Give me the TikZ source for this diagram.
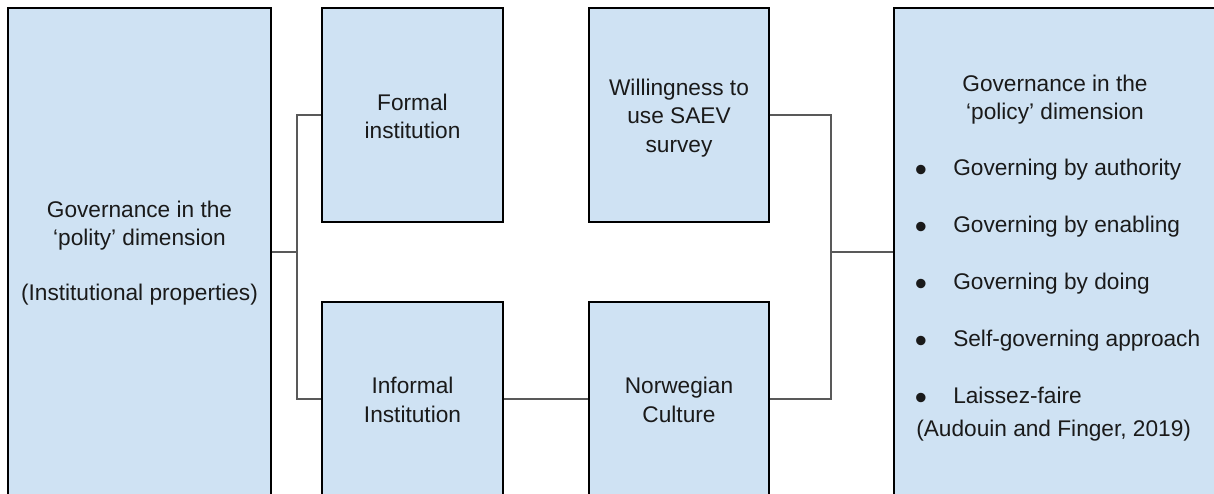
\documentclass[tikz,border=0pt]{standalone}
\usepackage{fontspec}
\setmainfont{Liberation Sans}
\usetikzlibrary{fit}
\definecolor{boxfill}{HTML}{CFE2F3}
\definecolor{connc}{HTML}{595959}
\definecolor{txtc}{HTML}{1A1A1A}
\tikzset{
  box/.style={draw=black, line width=0.8pt, fill=boxfill, inner sep=0pt, rectangle},
  conn/.style={draw=connc, line width=0.8pt},
  txt/.style={inner sep=0pt, text=txtc, font=\fontsize{17pt}{21pt}\selectfont, anchor=base},
  txtl/.style={txt, anchor=base west},
  bullet/.style={txt, font=\fontsize{26pt}{26pt}\selectfont},
}
\begin{document}
\begin{tikzpicture}[x=0.75pt, y=-0.75pt]
\useasboundingbox (0,0) rectangle (1214,493);
\clip (0,0) rectangle (1214,493);
\fill[white] (0,0) rectangle (1214,493);
% boxes
\node[box, fit={(8,8) (271,496)}] (polity) {};
\node[box, fit={(322,8) (503,222)}] (formal) {};
\node[box, fit={(322,302) (503,496)}] (informal) {};
\node[box, fit={(589,8) (769,222)}] (will) {};
\node[box, fit={(589,302) (769,496)}] (norw) {};
\node[box, fit={(894,8) (1225,496)}] (policy) {};
% texts
\node[txt] (p1) at (139.5,217) {Governance in the};
\node[txt] (p2) at (139.5,245) {‘polity’ dimension};
\node[txt] (p3) at (139.5,300) {(Institutional properties)};
\node[txt] (f1) at (412.5,110) {Formal};
\node[txt] (f2) at (412.5,138) {institution};
\node[txt] (i1) at (412.5,393) {Informal};
\node[txt] (i2) at (412.5,422) {Institution};
\node[txt] (w1) at (679,95) {Willingness to};
\node[txt] (w2) at (679,123.5) {use SAEV};
\node[txt] (w3) at (679,152) {survey};
\node[txt] (n1) at (679,393) {Norwegian};
\node[txt] (n2) at (679,422) {Culture};
\node[txt] (g1) at (1055,91) {Governance in the};
\node[txt] (g2) at (1055,119) {‘policy’ dimension};
\foreach \y/\t [count=\k] in {175/Governing by authority, 232/Governing by enabling, 289/Governing by doing, 346/Self-governing approach, 403/Laissez-faire}{
  \node[bullet] (b\k) at (921,\y+6) {•};
  \node[txtl] (t\k) at (953,\y) {\t};
}
\node[txtl] (cite) at (916,436) {(Audouin and Finger, 2019)};
% connectors
\coordinate (jl) at (297,252);
\coordinate (jr) at (831,252);
\draw[conn] (polity.east) -- (jl);
\draw[conn] (formal.west) -| (jl) |- (informal.west);
\draw[conn] (informal) -- (norw);
\draw[conn] (will.east) -| (jr) |- (norw.east);
\draw[conn] (jr) -- (policy.west);
\end{tikzpicture}
\end{document}
